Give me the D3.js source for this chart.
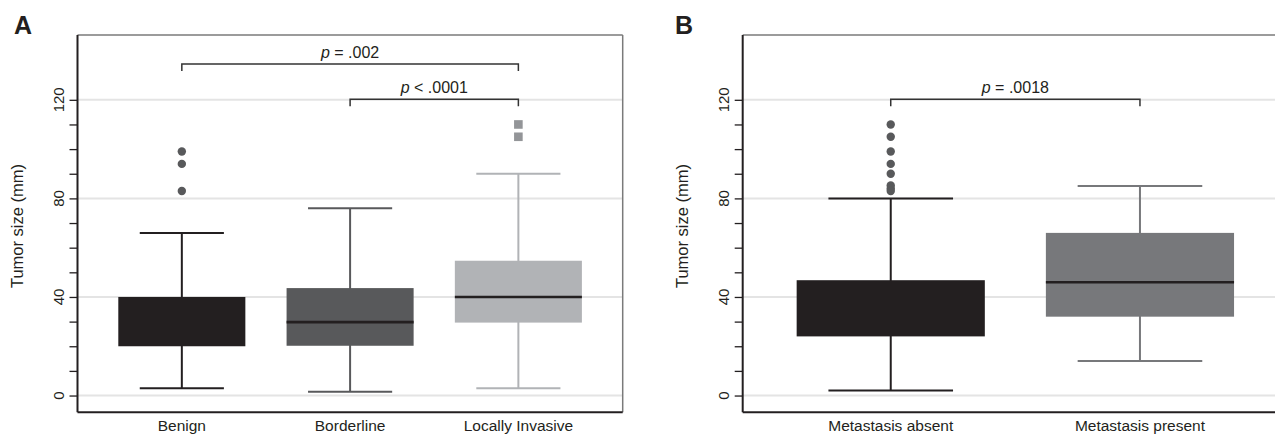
<!DOCTYPE html>
<html>
<head>
<meta charset="utf-8">
<script src="https://cdn.jsdelivr.net/npm/d3@7"></script>
<style>
  body { margin: 0; background: #fff; }
  svg { display: block; font-family: "Liberation Sans", Arial, sans-serif; }
</style>
</head>
<body>
<div id="chart"></div>
<script>
// ---- data (tumor size, mm) ----
var groupsA = ["Benign", "Borderline", "Locally Invasive"];
var lowA = [3, 1.5, 3];
var q1A = [20, 20.2, 29.6];
var medA = [30, 29.8, 40];
var q3A = [40, 43.6, 54.7];
var highA = [66, 76, 90];
var outliersA = [[99, 94, 83], [], [110, 105]];

var groupsB = ["Metastasis absent", "Metastasis present"];
var lowB = [2, 14];
var q1B = [24, 32];
var medB = [36, 46];
var q3B = [46.8, 66];
var highB = [80, 85];
var outliersB = [[110, 105, 99, 94, 90, 85.2, 84, 83], []];

var yLabels = [0, 40, 80, 120];
var yMinor = [0, 10, 20, 30, 40, 50, 60, 70, 80, 90, 100, 110, 120];

// brackets: [from index, to index, y value, relation, p text]
var bracketsA = [[0, 2, 134.5, "=", ".002"], [1, 2, 120.2, "<", ".0001"]];
var bracketsB = [[0, 1, 120.2, "=", ".0018"]];

var width = 1275, height = 435;
var ink = "#231f20";

var svg = d3.select("#chart").append("svg")
    .attr("width", width)
    .attr("height", height);

function drawPanel(p) {
    var g = svg.append("g");

    var y = d3.scaleLinear().domain([-6.8, 146.3]).range([412.3, 35]);
    var x = d3.scalePoint().domain(p.groups).range([p.left, p.right]).padding(p.pad);
    var step = x.step();
    var boxW = step * 0.755, capW = step * 0.5;

    // gridlines
    g.selectAll(".grid")
        .data(yLabels)
        .enter().append("line")
        .attr("x1", p.left).attr("x2", p.right)
        .attr("y1", function(d) { return y(d); })
        .attr("y2", function(d) { return y(d); })
        .attr("stroke", "#e4e4e4")
        .attr("stroke-width", 2);

    // frame: top and right grey
    g.append("line").attr("x1", p.left).attr("x2", p.right)
        .attr("y1", 35).attr("y2", 35)
        .attr("stroke", "#7a7a7a").attr("stroke-width", 1.5);
    g.append("line").attr("x1", p.right).attr("x2", p.right)
        .attr("y1", 35).attr("y2", 412.3)
        .attr("stroke", "#7a7a7a").attr("stroke-width", 1.5);

    p.groups.forEach(function(name, i) {
        var cx = x(name);
        var col = p.colors[i];

        // whisker
        g.append("line").attr("x1", cx).attr("x2", cx)
            .attr("y1", y(p.low[i])).attr("y2", y(p.high[i]))
            .attr("stroke", col).attr("stroke-width", 2);
        [p.low[i], p.high[i]].forEach(function(v) {
            g.append("line").attr("x1", cx - capW / 2).attr("x2", cx + capW / 2)
                .attr("y1", y(v)).attr("y2", y(v))
                .attr("stroke", col).attr("stroke-width", 2);
        });

        // box
        g.append("rect")
            .attr("x", cx - boxW / 2)
            .attr("width", boxW)
            .attr("y", y(p.q3[i]))
            .attr("height", y(p.q1[i]) - y(p.q3[i]))
            .attr("fill", col);

        // median (black line disappears into the black boxes)
        if (col !== ink) {
            g.append("line").attr("x1", cx - boxW / 2).attr("x2", cx + boxW / 2)
                .attr("y1", y(p.med[i])).attr("y2", y(p.med[i]))
                .attr("stroke", ink).attr("stroke-width", 2.6);
        }

        // outliers
        if (p.squares[i]) {
            g.selectAll(null).data(p.out[i]).enter().append("rect")
                .attr("x", cx - 4.3).attr("width", 8.6)
                .attr("y", function(d) { return y(d) - 4.3; })
                .attr("height", 8.6)
                .attr("fill", "#939598");
        } else {
            g.selectAll(null).data(p.out[i]).enter().append("circle")
                .attr("cx", cx)
                .attr("cy", function(d) { return y(d); })
                .attr("r", 4.2)
                .attr("fill", "#58595b");
        }
    });

    // brackets with p values
    p.brackets.forEach(function(b) {
        var x1 = x(p.groups[b[0]]), x2 = x(p.groups[b[1]]), by = y(b[2]);
        g.append("path")
            .attr("d", "M" + x1 + "," + (by + 7) + "V" + by + "H" + x2 + "V" + (by + 7))
            .attr("fill", "none")
            .attr("stroke", "#333")
            .attr("stroke-width", 1.5);
        var t = g.append("text")
            .attr("x", (x1 + x2) / 2)
            .attr("y", by - 6)
            .attr("text-anchor", "middle")
            .attr("font-size", 16)
            .attr("fill", ink);
        t.append("tspan").attr("font-style", "italic").text("p");
        t.append("tspan").text(" " + b[3] + " " + b[4]);
    });

    // y axis
    var yAxis = d3.axisLeft(y).tickValues(yMinor).tickSize(8).tickFormat("");
    var ax = g.append("g")
        .attr("transform", "translate(" + p.left + ",0)")
        .call(yAxis);
    ax.select(".domain").remove();
    ax.selectAll(".tick line").attr("stroke", ink).attr("stroke-width", 1.3);

    g.selectAll(".ylab")
        .data(yLabels)
        .enter().append("text")
        .attr("transform", function(d) {
            return "translate(" + (p.left - 14) + "," + y(d) + ") rotate(-90)";
        })
        .attr("text-anchor", "middle")
        .attr("font-size", 15)
        .attr("fill", ink)
        .text(function(d) { return d; });

    g.append("text")
        .attr("transform", "translate(" + (p.left - 55) + "," + 226 + ") rotate(-90)")
        .attr("text-anchor", "middle")
        .attr("font-size", 16.5)
        .attr("fill", ink)
        .text("Tumor size (mm)");

    // left and bottom axis lines
    g.append("line").attr("x1", p.left).attr("x2", p.left)
        .attr("y1", 35).attr("y2", 412.3)
        .attr("stroke", ink).attr("stroke-width", 2);
    g.append("line").attr("x1", p.left).attr("x2", p.right)
        .attr("y1", 412.3).attr("y2", 412.3)
        .attr("stroke", ink).attr("stroke-width", 2);

    // x labels
    g.selectAll(".xlab")
        .data(p.groups)
        .enter().append("text")
        .attr("x", function(d) { return x(d); })
        .attr("y", 431)
        .attr("text-anchor", "middle")
        .attr("font-size", 15.5)
        .attr("fill", ink)
        .text(function(d) { return d; });

    // panel letter
    g.append("text")
        .attr("x", p.letterX)
        .attr("y", 34)
        .attr("font-size", 25)
        .attr("font-weight", "bold")
        .attr("fill", ink)
        .text(p.letter);
}

drawPanel({
    letter: "A", letterX: 14,
    left: 77.5, right: 622.7, pad: 0.62,
    groups: groupsA, low: lowA, q1: q1A, med: medA, q3: q3A, high: highA, out: outliersA,
    colors: [ink, "#58595b", "#b1b3b6"],
    squares: [false, false, true],
    brackets: bracketsA
});

drawPanel({
    letter: "B", letterX: 675,
    left: 742.7, right: 1288, pad: 0.594,
    groups: groupsB, low: lowB, q1: q1B, med: medB, q3: q3B, high: highB, out: outliersB,
    colors: [ink, "#77787b"],
    squares: [false, false],
    brackets: bracketsB
});
</script>
</body>
</html>
